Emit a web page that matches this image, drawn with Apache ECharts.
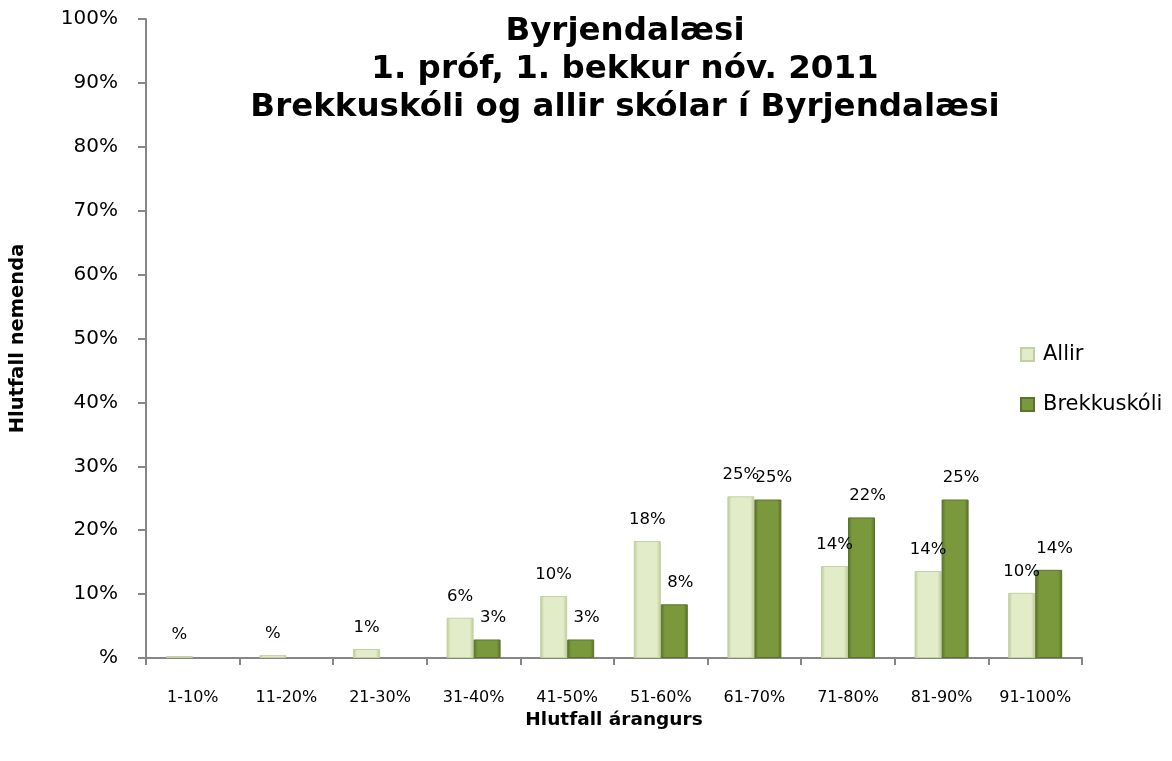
<!DOCTYPE html>
<html>
<head>
<meta charset="utf-8">
<script src="https://cdn.jsdelivr.net/npm/echarts@6/dist/echarts.min.js"></script>
<style>
html,body{margin:0;padding:0;background:#fff;}
#chart{width:1172px;height:761px;}
</style>
</head>
<body>
<div id="chart"></div>
<script>
const categories = ['1-10%','11-20%','21-30%','31-40%','41-50%','51-60%','61-70%','71-80%','81-90%','91-100%'];
const allir = [0.3, 0.45, 1.4, 6.3, 9.7, 18.3, 25.3, 14.4, 13.6, 10.2];
const brekkuskoli = [null, null, null, 2.9, 2.9, 8.4, 24.8, 22.0, 24.8, 13.8];
const yTicks = [0,10,20,30,40,50,60,70,80,90,100];
const seriesNames = ['Allir', 'Brekkuskóli'];
const titleLines = ['Byrjendalæsi', '1. próf, 1. bekkur nóv. 2011', 'Brekkuskóli og allir skólar í Byrjendalæsi'];

const FONT = '"DejaVu Sans", sans-serif';
const chart = echarts.init(document.getElementById('chart'));

function grad(edge, mid){
  return new echarts.graphic.LinearGradient(0,0,1,0,[
    {offset:0,color:edge},{offset:0.15,color:mid},{offset:0.85,color:mid},{offset:1,color:edge}
  ]);
}
function fmt(p){
  if(p.value === null || p.value === undefined) return '';
  const r = Math.round(p.value);
  return r === 0 ? '%' : r + '%';
}

chart.setOption({
  backgroundColor:'#fff',
  animation:false,
  title:{
    text: titleLines.join('\n'),
    left: 620, top: 8, textAlign:'center',
    textStyle:{fontFamily:FONT, fontWeight:'bold', fontSize:32.5, lineHeight:38, color:'#000'}
  },
  legend:{
    orient:'vertical', left:1015, top:339, itemGap:29,
    itemWidth:13, itemHeight:13,
    icon:'rect',
    textStyle:{fontFamily:FONT, fontSize:21, color:'#000', padding:[0,0,0,4]},
    data: seriesNames
  },
  grid:{left:142, right:90, top:19, bottom:103, containLabel:false},
  xAxis:{
    type:'category', data:categories,
    name:'Hlutfall árangurs', nameLocation:'middle', nameGap:53,
    nameTextStyle:{fontFamily:FONT, fontWeight:'bold', fontSize:18.5, color:'#000'},
    axisLine:{lineStyle:{color:'#868686', width:2}},
    axisTick:{show:true, length:7, lineStyle:{color:'#868686', width:2}},
    axisLabel:{fontFamily:FONT, fontSize:16, color:'#000', margin:32, interval:0}
  },
  yAxis:{
    type:'value', min:0, max:100, interval:10,
    name:'Hlutfall nemenda', nameLocation:'middle', nameGap:118,
    nameTextStyle:{fontFamily:FONT, fontWeight:'bold', fontSize:19.5, color:'#000'},
    splitLine:{show:false},
    axisLine:{show:true, lineStyle:{color:'#868686', width:2}},
    axisTick:{show:true, length:8, lineStyle:{color:'#868686', width:2}},
    axisLabel:{fontFamily:FONT, fontSize:20, color:'#000', margin:28,
      formatter:v => (v===0 ? '%' : v + '%')}
  },
  series:[
    {
      name:seriesNames[0], type:'bar', data:allir, barWidth:27, barGap:'0%',
      itemStyle:{color:grad('#b9c893','#e2ecc9'), borderColor:'#c3d0a0', borderWidth:1},
      label:{show:true, position:'top', distance:13, formatter:fmt,
        fontFamily:FONT, fontSize:16.5, color:'#000'}
    },
    {
      name:seriesNames[1], type:'bar', data:brekkuskoli, barWidth:27,
      itemStyle:{color:grad('#566f26','#7a993c'), borderColor:'#5a752a', borderWidth:1},
      label:{show:true, position:'top', distance:13, offset:[6,0], formatter:fmt,
        fontFamily:FONT, fontSize:16.5, color:'#000'}
    }
  ]
});
</script>
</body>
</html>
